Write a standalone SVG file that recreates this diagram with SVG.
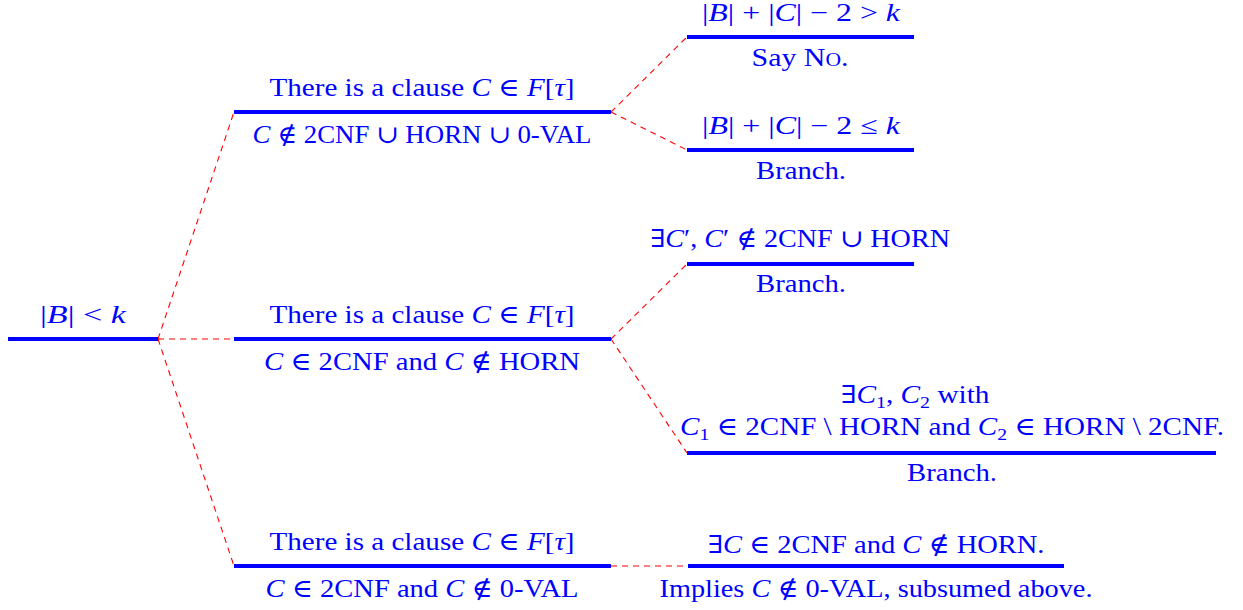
<svg xmlns="http://www.w3.org/2000/svg" width="1243" height="610" viewBox="0 0 1243 610">
<style>
.bar{stroke:#0000FF;stroke-width:4;fill:none}
.con{stroke:#FF0000;stroke-width:1.1;stroke-dasharray:6,5;fill:none}
text{font-family:"Liberation Serif","DejaVu Serif",serif;font-size:25px;fill:#0000FF;text-anchor:middle}
.i{font-style:italic}
.s{font-size:17px}
</style>
<rect width="1243" height="610" fill="#FFFFFF"/>
<g id="connectors">
<line class="con" x1="158" y1="339" x2="234" y2="112"/>
<line class="con" x1="158" y1="339" x2="234" y2="339"/>
<line class="con" x1="158" y1="339" x2="234" y2="566"/>
<line class="con" x1="611" y1="112" x2="687" y2="37"/>
<line class="con" x1="611" y1="112" x2="687" y2="150"/>
<line class="con" x1="611" y1="339" x2="687" y2="264"/>
<line class="con" x1="611" y1="339" x2="687" y2="453"/>
<line class="con" x1="611" y1="566" x2="687" y2="566"/>
</g>
<g id="root">
<line class="bar" x1="8" y1="339" x2="158" y2="339"/>
<text x="83" y="323" textLength="86" lengthAdjust="spacingAndGlyphs">|<tspan class="i">B</tspan>| &lt; <tspan class="i">k</tspan></text>
</g>
<g id="nodeA">
<line class="bar" x1="234" y1="112" x2="611" y2="112"/>
<text x="422" y="96" textLength="305" lengthAdjust="spacingAndGlyphs">There is a clause <tspan class="i">C</tspan> ∈ <tspan class="i">F</tspan>[<tspan class="i">τ</tspan>]</text>
<text x="422" y="143" textLength="339" lengthAdjust="spacingAndGlyphs"><tspan class="i">C</tspan> ∉ 2CNF ∪ HORN ∪ 0-VAL</text>
</g>
<g id="nodeB">
<line class="bar" x1="234" y1="339" x2="611" y2="339"/>
<text x="422" y="323" textLength="305" lengthAdjust="spacingAndGlyphs">There is a clause <tspan class="i">C</tspan> ∈ <tspan class="i">F</tspan>[<tspan class="i">τ</tspan>]</text>
<text x="422" y="370" textLength="316" lengthAdjust="spacingAndGlyphs"><tspan class="i">C</tspan> ∈ 2CNF and <tspan class="i">C</tspan> ∉ HORN</text>
</g>
<g id="nodeC">
<line class="bar" x1="234" y1="566" x2="611" y2="566"/>
<text x="422" y="550" textLength="305" lengthAdjust="spacingAndGlyphs">There is a clause <tspan class="i">C</tspan> ∈ <tspan class="i">F</tspan>[<tspan class="i">τ</tspan>]</text>
<text x="422" y="597" textLength="313" lengthAdjust="spacingAndGlyphs"><tspan class="i">C</tspan> ∈ 2CNF and <tspan class="i">C</tspan> ∉ 0-VAL</text>
</g>
<g id="nodeA1">
<line class="bar" x1="687" y1="37" x2="914" y2="37"/>
<text x="801" y="21" textLength="198" lengthAdjust="spacingAndGlyphs">|<tspan class="i">B</tspan>| + |<tspan class="i">C</tspan>| − 2 &gt; <tspan class="i">k</tspan></text>
<text x="800" y="66" textLength="97" lengthAdjust="spacingAndGlyphs">Say N<tspan style="font-variant:small-caps">o</tspan>.</text>
</g>
<g id="nodeA2">
<line class="bar" x1="687" y1="150" x2="914" y2="150"/>
<text x="801" y="134" textLength="198" lengthAdjust="spacingAndGlyphs">|<tspan class="i">B</tspan>| + |<tspan class="i">C</tspan>| − 2 ≤ <tspan class="i">k</tspan></text>
<text x="801" y="179" textLength="90" lengthAdjust="spacingAndGlyphs">Branch.</text>
</g>
<g id="nodeB1">
<line class="bar" x1="687" y1="264" x2="914" y2="264"/>
<text x="800" y="247" textLength="300" lengthAdjust="spacingAndGlyphs">∃<tspan class="i">C</tspan>′, <tspan class="i">C</tspan>′ ∉ 2CNF ∪ HORN</text>
<text x="801" y="292" textLength="90" lengthAdjust="spacingAndGlyphs">Branch.</text>
</g>
<g id="nodeB2">
<line class="bar" x1="687" y1="453" x2="1216" y2="453"/>
<text x="915" y="403" textLength="149" lengthAdjust="spacingAndGlyphs">∃<tspan class="i">C</tspan><tspan class="s" dy="5">1</tspan><tspan dy="-5">, </tspan><tspan class="i">C</tspan><tspan class="s" dy="5">2</tspan><tspan dy="-5"> with</tspan></text>
<text x="952" y="435" textLength="544" lengthAdjust="spacingAndGlyphs"><tspan class="i">C</tspan><tspan class="s" dy="5">1</tspan><tspan dy="-5"> ∈ 2CNF \ HORN and </tspan><tspan class="i">C</tspan><tspan class="s" dy="5">2</tspan><tspan dy="-5"> ∈ HORN \ 2CNF.</tspan></text>
<text x="952" y="481" textLength="90" lengthAdjust="spacingAndGlyphs">Branch.</text>
</g>
<g id="nodeC1">
<line class="bar" x1="688" y1="566" x2="1064" y2="566"/>
<text x="876" y="553" textLength="337" lengthAdjust="spacingAndGlyphs">∃<tspan class="i">C</tspan> ∈ 2CNF and <tspan class="i">C</tspan> ∉ HORN.</text>
<text x="876" y="597" textLength="433" lengthAdjust="spacingAndGlyphs">Implies <tspan class="i">C</tspan> ∉ 0-VAL, subsumed above.</text>
</g>
</svg>
